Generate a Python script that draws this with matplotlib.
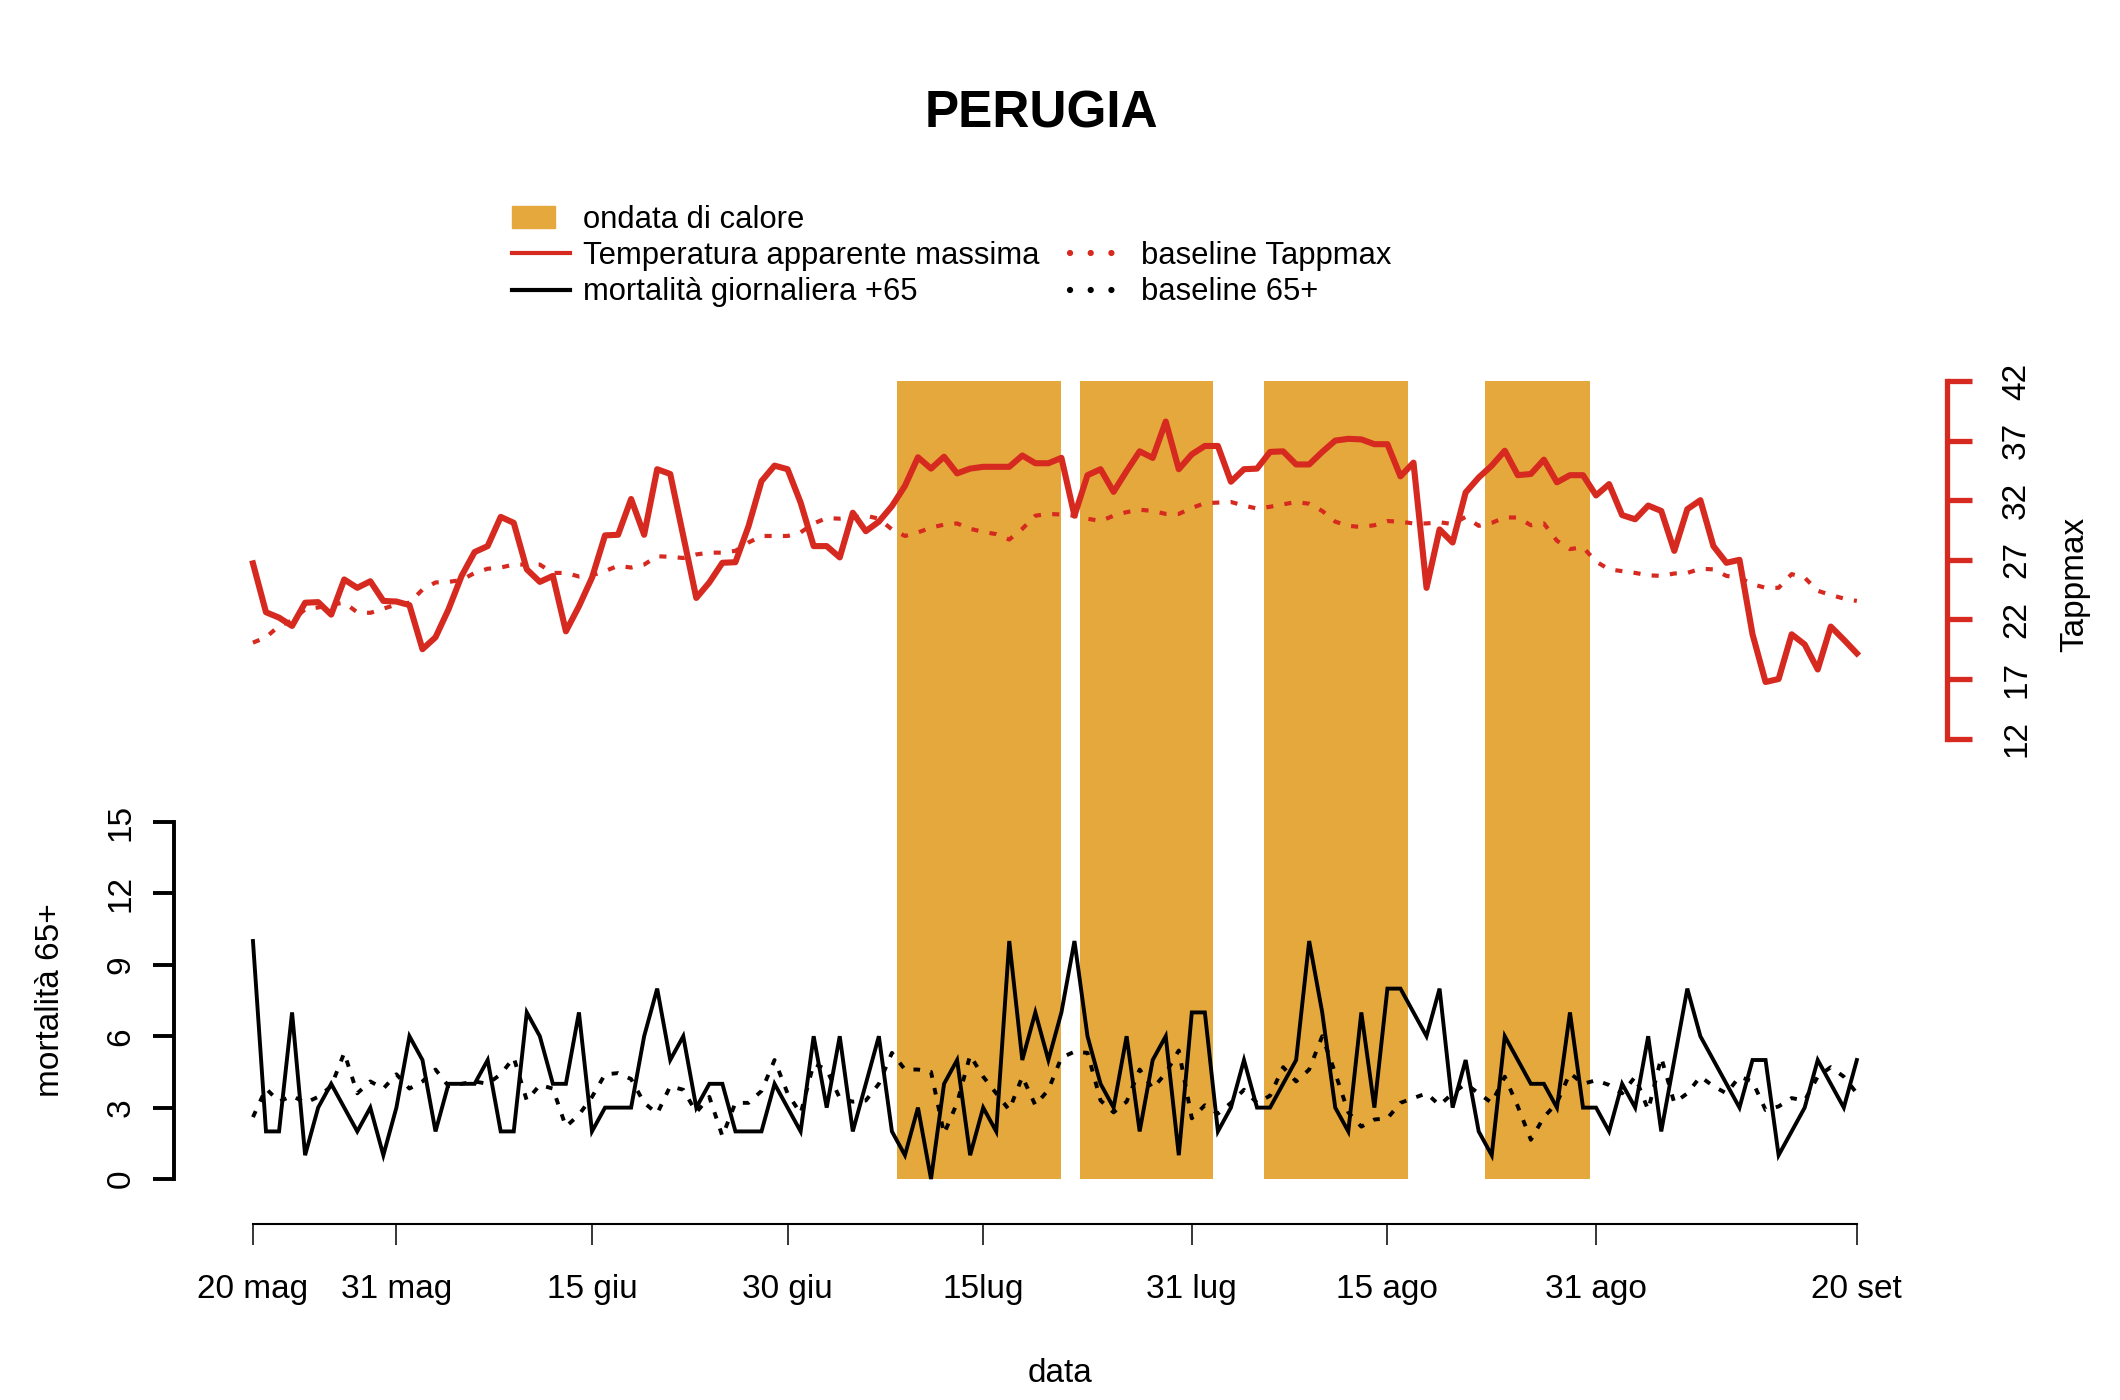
import matplotlib
matplotlib.use("Agg")
import matplotlib.pyplot as plt
import matplotlib.patches as mpatches
from matplotlib.lines import Line2D
from matplotlib.legend_handler import HandlerPatch

plt.rcParams['font.family'] = ['Liberation Sans', 'DejaVu Sans']

# days from 20 May to 20 Sep
days = list(range(124))

# daily mortality 65+
mort = [10, 2, 2, 7, 1, 3, 4, 3, 2, 3, 1, 3, 6, 5, 2, 4, 4, 4, 5, 2,
        2, 7, 6, 4, 4, 7, 2, 3, 3, 3, 6, 8, 5, 6, 3, 4, 4, 2, 2, 2,
        4, 3, 2, 6, 3, 6, 2, 4, 6, 2, 1, 3, 0, 4, 5, 1, 3, 2, 10, 5,
        7, 5, 7, 10, 6, 4, 3, 6, 2, 5, 6, 1, 7, 7, 2, 3, 5, 3, 3, 4,
        5, 10, 7, 3, 2, 7, 3, 8, 8, 7, 6, 8, 3, 5, 2, 1, 6, 5, 4, 4,
        3, 7, 3, 3, 2, 4, 3, 6, 2, 5, 8, 6, 5, 4, 3, 5, 5, 1, 2, 3,
        5, 4, 3, 5]

# baseline mortality 65+
mort_base = [2.6, 3.8, 3.25, 3.5, 3.2, 3.45, 3.9, 5.3, 3.6, 4.1, 3.8, 4.4, 3.8, 4.1, 4.6,
             3.9, 4.0, 4.1, 4.0, 4.4, 5.1, 3.3, 3.95, 3.8, 2.2, 2.7, 3.45, 4.4, 4.45, 4.2,
             3.2, 2.75, 3.9, 3.75, 2.8, 3.45, 1.8, 3.2, 3.2, 3.7, 5.0,
             3.6, 2.75, 4.85, 4.6, 3.4, 3.25, 3.3, 4.0, 5.3, 4.6, 4.6, 4.5, 1.9, 3.2,
             5.2, 4.3, 3.6, 2.9, 4.3, 3.1, 3.75, 5.1, 5.35, 5.3, 3.3, 2.8, 3.25, 4.6,
             3.8, 4.45, 5.4, 2.55, 3.1, 2.75, 3.2, 3.75, 3.2, 3.5, 4.7, 4.1, 4.6,
             6.0, 4.45, 2.8, 2.2, 2.5, 2.55, 3.2, 3.4, 3.6, 3.1, 3.6, 4.0, 3.6, 3.2,
             4.3, 3.05, 1.65, 2.6, 3.2, 4.45, 4.0, 4.15, 3.95, 3.6, 4.3, 2.9, 5.1, 3.2,
             3.6, 4.3, 3.9, 3.6, 4.3, 4.1, 2.9, 3.05, 3.4, 3.3, 4.3, 4.7, 4.3, 3.6]

# maximum apparent temperature
tapp = [26.7, 22.6, 22.15, 21.45, 23.4, 23.45, 22.4, 25.35, 24.65, 25.2, 23.55, 23.5,
        23.2, 19.5, 20.5, 22.85, 25.65, 27.65, 28.15, 30.6, 30.1, 26.2, 25.15, 25.65,
        21.0, 23.1, 25.5, 29.05, 29.1, 32.1, 29.1, 34.6, 34.2, 29.0, 23.8, 25.1,
        26.75, 26.8, 29.8, 33.6, 34.9, 34.6, 31.8, 28.15, 28.15, 27.2, 30.95, 29.4,
        30.2, 31.5, 33.2, 35.6, 34.65,
        35.65, 34.25, 34.65, 34.8, 34.8, 34.8, 35.75, 35.1, 35.1, 35.55, 30.7, 34.1,
        34.6, 32.7, 34.45, 36.1, 35.55, 38.6, 34.6, 35.85, 36.55, 36.55, 33.55, 34.6,
        34.65, 36.05, 36.1, 35.0, 35.0, 36.05, 37.0, 37.15, 37.1, 36.7, 36.7, 34.0,
        35.15, 24.65, 29.55, 28.45, 32.65, 33.9, 34.9, 36.15, 34.1, 34.2, 35.4, 33.5,
        34.1,
        34.1, 32.4, 33.35, 30.75, 30.4, 31.55, 31.1, 27.75, 31.25, 32.0, 28.15, 26.75,
        27.0, 20.75, 16.75, 17.0, 20.75, 19.9, 17.8, 21.4, 20.3, 19.15]

# baseline Tappmax
tapp_base = [20.05, 20.5, 21.45, 21.9, 22.85, 23.0, 23.25, 23.4, 22.6, 22.55, 22.9, 23.25,
             23.4, 24.5, 25.1, 25.15, 25.3, 25.9, 26.25, 26.35, 26.6, 26.6, 26.6, 25.9,
             25.9, 25.6, 25.7, 26.05, 26.5, 26.35, 26.6, 27.3, 27.25, 27.15, 27.45, 27.6,
             27.6, 27.75, 28.45, 29.0, 29.0, 29.0, 29.3, 30.05, 30.5, 30.45, 30.55, 30.7,
             30.45, 29.55, 29.0, 29.3,
             29.7, 29.95, 30.05, 29.6, 29.35, 29.15, 28.7, 29.6, 30.7, 30.85, 30.8, 30.7,
             30.45, 30.25, 30.7, 31.0, 31.2, 31.1, 30.85, 30.85, 31.35, 31.75, 31.8, 31.85,
             31.55, 31.3, 31.45, 31.65, 31.85, 31.7, 31.1, 30.2, 29.85, 29.75, 29.9, 30.25,
             30.2, 30.05, 30.05, 30.15, 30.0, 30.6, 29.85, 30.1, 30.55, 30.55, 29.9, 30.05,
             28.6, 27.9,
             28.05, 26.85, 26.2, 26.05, 25.9, 25.7, 25.65, 25.85, 25.9, 26.25, 26.2, 25.65,
             25.5, 24.95, 24.65, 24.65, 25.8, 25.5, 24.4, 24.05, 23.75, 23.55]

# heat waves (start, end) in days from 20 May
wave_start = [49.4, 63.4, 77.5, 94.5]
wave_end = [62.0, 73.6, 88.6, 102.5]

tick_days = [0, 11, 26, 41, 56, 72, 87, 103, 123]
tick_labels = ['20 mag', '31 mag', '15 giu', '30 giu', '15lug', '31 lug', '15 ago', '31 ago', '20 set']

RED = '#D62A20'
ORANGE = '#E5A83C'
DOT = (0, (1.7, 2.7))


def narrow_box(legend, orig_handle, xdescent, ydescent, width, height, fontsize):
    # R style filled box, narrower than the line handles
    return mpatches.Rectangle((-xdescent, -ydescent), width * 0.74, height)


def plot_perugia():
    fig = plt.figure(figsize=(21.2, 14), dpi=100)
    ax = fig.add_axes([188.8 / 2120, 1 - 1224 / 1400, 1732.2 / 2120, 843 / 1400])
    ax2 = ax.twinx()

    ax.set_xlim(-4.92, 127.92)
    ax.set_ylim(-1.89, 33.53)
    ax2.set_ylim(-28.72, 42)

    # heat wave bands, from mortality 0 to the top of the plot
    ymin = (0 - ax.get_ylim()[0]) / (ax.get_ylim()[1] - ax.get_ylim()[0])
    for s, e in zip(wave_start, wave_end):
        ax.axvspan(s, e, ymin=ymin, ymax=1, color=ORANGE, lw=0, zorder=0)

    ax.plot(days, mort_base, color='black', lw=2.8, linestyle=DOT, zorder=2)
    ax.plot(days, mort, color='black', lw=2.8, zorder=3, solid_joinstyle='miter')
    ax2.plot(days, tapp_base, color=RED, lw=3.0, linestyle=DOT)
    ax2.plot(days, tapp, color=RED, lw=4.4)

    # spines
    for s in ['top', 'right']:
        ax.spines[s].set_visible(False)
    for s in ['top', 'left', 'bottom']:
        ax2.spines[s].set_visible(False)
    ax.spines['left'].set_bounds(0, 15)
    ax.spines['left'].set_position(('outward', 10.7))
    ax.spines['left'].set_linewidth(2.8)
    ax.spines['bottom'].set_bounds(0, 123)
    ax.spines['bottom'].set_linewidth(1.5)
    ax2.spines['right'].set_bounds(12, 42)
    ax2.spines['right'].set_position(('outward', 18.7))
    ax2.spines['right'].set_linewidth(3.8)
    ax2.spines['right'].set_color(RED)

    ax.set_xticks(tick_days, tick_labels)
    ax.set_yticks(range(0, 16, 3))
    ax2.set_yticks(range(12, 43, 5))

    ax.tick_params(axis='x', length=15, width=1.1, pad=21, labelsize=24)
    ax.tick_params(axis='y', length=15, width=2.8, pad=12, labelsize=24)
    ax2.tick_params(axis='y', length=18, width=3.8, color=RED, labelcolor='black', pad=21, labelsize=24)
    plt.setp(ax.get_yticklabels(), rotation=90, va='center')
    plt.setp(ax2.get_yticklabels(), rotation=90, va='center')

    fig.text(51 / 2120, 1 - 1000 / 1400, 'mortalità 65+', rotation=90, ha='center', va='center', fontsize=24)
    fig.text(2075 / 2120, 1 - 584 / 1400, 'Tappmax', rotation=90, ha='center', va='center', fontsize=24)
    fig.text(1060 / 2120, 1 - 1373 / 1400, 'data', ha='center', va='center', fontsize=24)
    fig.text(1041 / 2120, 1 - 114 / 1400, 'PERUGIA', ha='center', va='center', fontsize=37, fontweight='bold')

    # legend, two columns with an empty slot beside the heat wave entry
    handles = [mpatches.Patch(color=ORANGE),
               Line2D([], [], color=RED, lw=3.0),
               Line2D([], [], color='black', lw=3.0),
               Line2D([], [], alpha=0),
               Line2D([], [], color=RED, lw=4.5, linestyle=(0, (0.01, 3.3)), dash_capstyle='round'),
               Line2D([], [], color='black', lw=4.5, linestyle=(0, (0.01, 3.3)), dash_capstyle='round')]
    labels = ['ondata di calore', 'Temperatura apparente massima', 'mortalità giornaliera +65',
              '', 'baseline Tappmax', 'baseline 65+']
    ax.legend(handles, labels, ncol=2, loc='upper left',
              bbox_to_anchor=(512 / 2120, 1 - 205 / 1400), bbox_transform=fig.transFigure,
              frameon=False, borderpad=0, borderaxespad=0, fontsize=22.3,
              handlelength=1.87, handletextpad=0.42, columnspacing=1.0, labelspacing=0.2,
              handler_map={mpatches.Patch: HandlerPatch(patch_func=narrow_box)})

    fig.savefig('out.png', dpi=100)


if __name__ == "__main__":
    plot_perugia()
